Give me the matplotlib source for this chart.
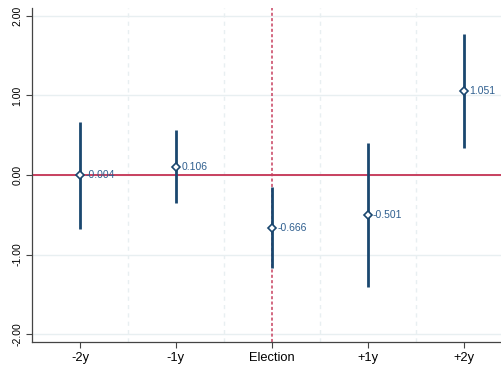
import matplotlib
matplotlib.use("Agg")
import matplotlib.pyplot as plt

plt.rcParams["font.family"] = ["Liberation Sans", "DejaVu Sans"]

periods = ["-2y", "-1y", "Election", "+1y", "+2y"]
estimates = [-0.004, 0.106, -0.666, -0.501, 1.051]
ci_low = [-0.68, -0.35, -1.17, -1.41, 0.34]
ci_high = [0.67, 0.57, -0.15, 0.40, 1.77]
y_ticks = [-2.0, -1.0, 0.0, 1.0, 2.0]

navy = "#1a476f"
label_blue = "#2f5f8f"
red = "#c8405f"

fig = plt.figure(figsize=(5.02, 3.72), dpi=100)
ax = fig.add_axes([32 / 502, 30 / 372, 470 / 502, 334 / 372])

x = list(range(1, len(periods) + 1))

# light grid
for yt in y_ticks:
    ax.axhline(yt, color="#e8eff1", lw=1.0, zorder=0)
for xm in [1.5, 2.5, 3.5, 4.5]:
    ax.axvline(xm, color="#e8eff1", lw=1.0, ls=(0, (3, 3)), zorder=0)

ax.axhline(0, color=red, lw=1.4, zorder=1)
ax.axvline(3, color=red, lw=1.1, ls=(0, (2, 1.5)), zorder=1)

ax.vlines(x, ci_low, ci_high, color=navy, lw=2.0, zorder=2)
ax.plot(x, estimates, ls="none", marker="D", ms=4.0, mfc="white",
        mec=navy, mew=1.2, zorder=3)
for xi, v in zip(x, estimates):
    ax.text(xi + 0.055, v, f"{v:.3f}", color=label_blue, fontsize=7.5,
            va="center", ha="left", zorder=4)

ax.set_xlim(0.5, 5.4)
ax.set_ylim(-2.1, 2.1)
ax.set_xticks(x)
ax.set_xticklabels(periods, fontsize=9.3)
ax.set_yticks(y_ticks)
ax.set_yticklabels([f"{v:.2f}" for v in y_ticks], fontsize=7.5,
                   rotation=90, va="center")
for side in ["top", "right"]:
    ax.spines[side].set_visible(False)
for side in ["left", "bottom"]:
    ax.spines[side].set_color("#444444")
    ax.spines[side].set_linewidth(0.9)
ax.tick_params(axis="both", color="#444444", length=4, width=0.8)
ax.tick_params(axis="y", pad=3)

fig.savefig("out.png", dpi=100)
